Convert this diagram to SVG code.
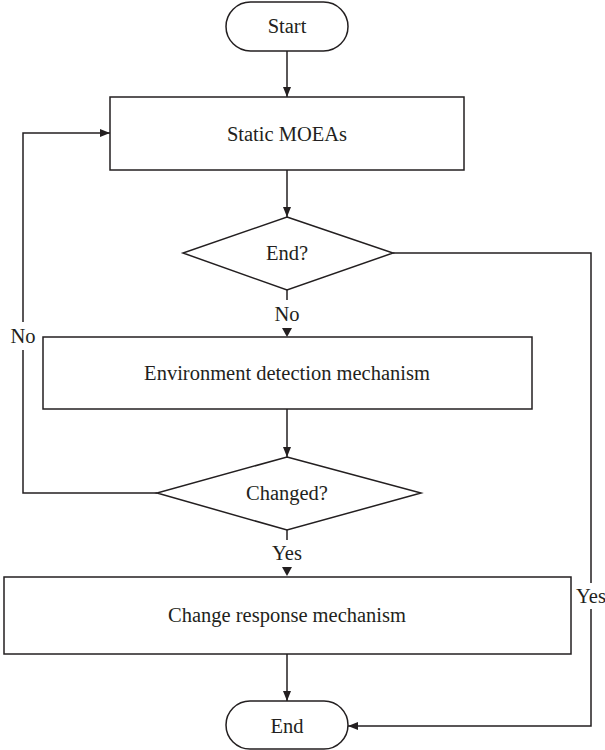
<svg xmlns="http://www.w3.org/2000/svg" width="605" height="750" viewBox="0 0 605 750">
<style>
.s{fill:#fff;stroke:#231f20;stroke-width:1.5}
.c{fill:none;stroke:#231f20;stroke-width:1.5}
text{font-family:"Liberation Serif","Times New Roman",serif;font-size:20.5px;fill:#231f20;text-anchor:middle}
.ah{fill:#231f20}
</style>
<defs>
<marker id="a" viewBox="0 0 10 10" refX="10" refY="5" markerWidth="10" markerHeight="10" markerUnits="userSpaceOnUse" orient="auto">
<path d="M0,1 L10,5 L0,9 Z" fill="#231f20"/>
</marker>
</defs>
<rect width="605" height="750" fill="#fff"/>
<g id="connectors">
<line class="c" x1="287" y1="51" x2="287" y2="97" marker-end="url(#a)"/>
<line class="c" x1="287" y1="170" x2="287" y2="217" marker-end="url(#a)"/>
<line class="c" x1="287" y1="290" x2="287" y2="300"/>
<path class="ah" d="M282,328 L292,328 L287,337 Z"/>
<line class="c" x1="287" y1="409" x2="287" y2="457" marker-end="url(#a)"/>
<line class="c" x1="287" y1="530" x2="287" y2="540"/>
<path class="ah" d="M282,567 L292,567 L287,576 Z"/>
<line class="c" x1="287" y1="654" x2="287" y2="701" marker-end="url(#a)"/>
<path class="c" d="M157,493 H23 V350"/>
<path class="c" d="M23,322 V133 H110" marker-end="url(#a)"/>
<path class="c" d="M393,253 H591 V583"/>
<path class="c" d="M591,609 V726 H348" marker-end="url(#a)"/>
<text x="23" y="343">No</text>
<text x="287" y="321">No</text>
<text x="287" y="560">Yes</text>
<text x="591" y="603">Yes</text>
</g>
<g id="start"><rect class="s" x="226" y="2" width="122" height="49" rx="24.5"/><text x="287" y="33">Start</text></g>
<g id="static"><rect class="s" x="110" y="97" width="354" height="73"/><text x="287" y="141">Static MOEAs</text></g>
<g id="endq"><polygon class="s" points="287,217 393,253 287,290 183,253"/><text x="287" y="260">End?</text></g>
<g id="env"><rect class="s" x="43" y="337" width="489" height="72"/><text x="287" y="380">Environment detection mechanism</text></g>
<g id="changed"><polygon class="s" points="287,457 421,493 287,530 157,493"/><text x="287" y="500">Changed?</text></g>
<g id="response"><rect class="s" x="4" y="577" width="567" height="77"/><text x="287" y="622">Change response mechanism</text></g>
<g id="end"><rect class="s" x="226" y="701" width="122" height="48" rx="24"/><text x="287" y="733">End</text></g>
</svg>
